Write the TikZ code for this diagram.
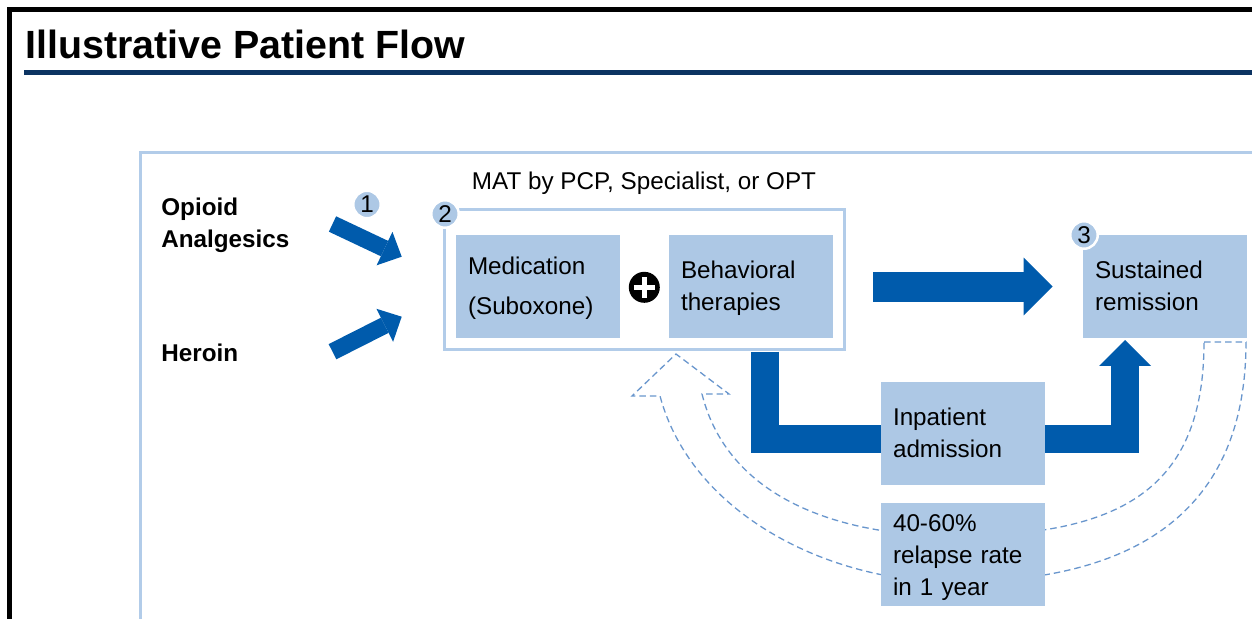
\documentclass[tikz,border=0pt]{standalone}
\usepackage{fontspec}
\setmainfont{Liberation Sans}
\usetikzlibrary{arrows.meta}
\definecolor{barblue}{RGB}{0,91,172}
\definecolor{boxblue}{RGB}{173,200,229}
\definecolor{lineblue}{RGB}{178,204,233}
\definecolor{dashblue}{RGB}{105,150,205}
\definecolor{navy}{RGB}{12,52,98}
\newcommand{\bodyfont}{\fontsize{13.8}{18.2}\selectfont}

\begin{document}
\begin{tikzpicture}[x=0.02cm, y=-0.02cm, font=\bodyfont, line join=miter]
    \tikzstyle{stepbox}=[fill=boxblue, text width=2.8cm, inner xsep=0.24cm, inner ysep=0pt, minimum height=2.06cm, align=left,
        execute at begin node={\rule{0pt}{14pt}}, execute at end node={\rule[-4.4pt]{0pt}{0pt}}]
    \tikzstyle{num}=[circle, fill=boxblue, draw=white, line width=0.05cm, minimum size=0.55cm, inner sep=0pt]
    \tikzstyle{inarrow}=[barblue, line width=0.34cm, -{Triangle[length=0.38cm, width=0.74cm, line width=0pt]}]
    \tikzstyle{bigarrow}=[barblue, line width=0.6cm, -{Triangle[length=0.58cm, width=1.16cm, line width=0pt]}]
    \tikzstyle{flowbar}=[barblue, line width=0.56cm]
    \tikzstyle{relapse}=[dashblue, line width=0.026cm, dash pattern=on 0.13cm off 0.08cm]

    \path[use as bounding box, clip] (0,0) rectangle (1252,619);

    % frame, panel and title
    \draw[black, line width=0.095cm] (9.5,9.2) rectangle (1400,800);
    \draw[lineblue, line width=0.06cm] (140,800) |- (1400,152);
    \node[anchor=base west, inner sep=0pt, font=\bfseries\fontsize{22.4}{26}\selectfont] (title) at (25,58.3) {Illustrative Patient Flow};
    \draw[navy, line width=0.1cm] (24,72.5) -- (1400,72.5);

    % relapse loop
    \draw[relapse] (1204,342) -- (1246,342)
        .. controls (1246,500) and (1150,582) .. (953,582)
        .. controls (830,582) and (692,515) .. (660,396)
        -- (632,396) -- (676,354) -- (729,394) -- (702,394)
        .. controls (729.5,504) and (850,536) .. (953,536)
        .. controls (1120,536) and (1204,490) .. (1204,342) -- cycle;

    % sources
    \node[anchor=west, inner sep=0pt, align=left, font=\bfseries\bodyfont] (opioid) at (161,225.5) {Opioid\\Analgesics};
    \node[anchor=base west, inner sep=0pt, font=\bfseries\bodyfont] (heroin) at (161,361.7) {Heroin};

    % boxes
    \node[anchor=base] (matlabel) at (644,189) {MAT by PCP, Specialist, or OPT};
    \node[draw=lineblue, line width=0.06cm, minimum width=8.02cm, minimum height=2.82cm, inner sep=0pt] (mat) at (644.5,279.5) {};
    \node[stepbox] (med) at (538,286.5) {Medication\\[4.6pt](Suboxone)};
    \node[stepbox] (beh) at (751,286.5) {Behavioral\\therapies};
    \node[stepbox] (rem) at (1165,286.5) {Sustained\\remission};
    \node[stepbox] (inp) at (963,433.5) {Inpatient\\admission};
    \node[stepbox] (rel) at (963,554.7) {40-60\%\\relapse rate\\in 1 year};

    \node[circle, fill=black, minimum size=0.62cm, inner sep=0pt] (plus) at (644.3,287.3) {};
    \draw[white, line width=0.1cm] ([xshift=-0.21cm]plus.center) -- ([xshift=0.21cm]plus.center);
    \draw[white, line width=0.1cm] ([yshift=-0.21cm]plus.center) -- ([yshift=0.21cm]plus.center);

    \node[num] (n1) at (367,204.5) {1};
    \node[num] (n2) at (445,214) {2};
    \node[num] (n3) at (1084,235) {3};

    % flow arrows
    \coordinate (o1) at (332.5,224);
    \coordinate (o2) at (401.7,256.7);
    \coordinate (h1) at (332.5,351.7);
    \coordinate (h2) at (401.7,316.7);
    \coordinate (l1) at (765,351.5);
    \coordinate (r1) at (1125,340);

    \draw[inarrow] (o1) -- (o2);
    \draw[inarrow] (h1) -- (h2);
    \draw[bigarrow] ([xshift=0.8cm]beh.east) -- ([xshift=-0.6cm]rem.west);
    \draw[flowbar] (l1) |- ([yshift=-0.1cm]inp.west);
    \draw[flowbar, -{Triangle[length=0.52cm, width=1.04cm, line width=0pt]}] ([yshift=-0.1cm]inp.east) -| (r1);
\end{tikzpicture}
\end{document}
